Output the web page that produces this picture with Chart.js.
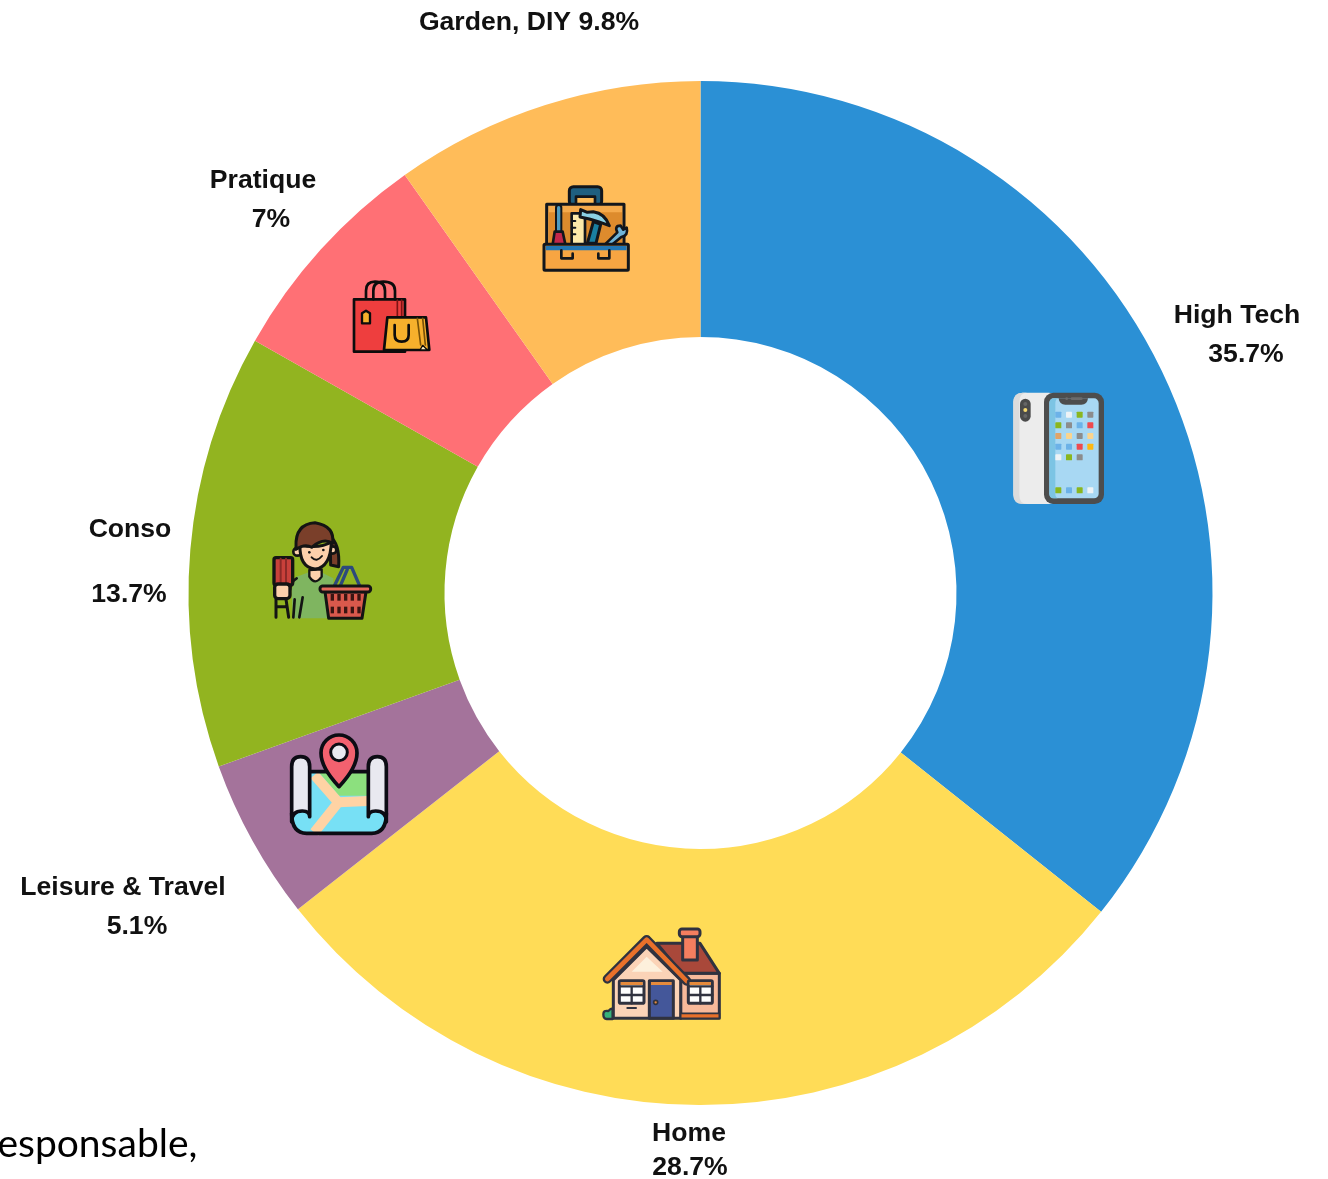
<!DOCTYPE html>
<html>
<head>
<meta charset="utf-8">
<title>Categories</title>
<script src="https://cdn.jsdelivr.net/npm/chart.js@4/dist/chart.umd.min.js"></script>
<style>
    html, body { margin: 0; padding: 0; background: #fff; overflow: hidden; }
    #wrap { position: relative; width: 1328px; height: 1179px; overflow: hidden; }
    #wrap canvas { position: absolute; left: 0; top: 0; }
    #note { position: absolute; left: -16px; top: 1119px; font: 39px Lato, sans-serif; color: #000; white-space: nowrap; }
</style>
</head>
<body>
<div id="wrap">
    <canvas id="pie" width="1328" height="1179"></canvas>
    <div id="note">responsable,</div>
</div>
<script>
const categories = ['High Tech', 'Home', 'Leisure & Travel', 'Conso', 'Pratique', 'Garden, DIY'];
const shares = [35.7, 28.7, 5.1, 13.7, 7, 9.8];
const sliceColors = ['#2b90d5', '#ffdc57', '#a4739b', '#92b420', '#ff7075', '#ffbc59'];

// where each label sits: [name x, name y, value x, value y], value y null = same line
const labelSpots = [
    [1237, 316, 1246, 355],
    [689, 1134, 690, 1168],
    [123, 888, 137, 927],
    [130, 530, 129, 595],
    [263, 181, 271, 220],
    [529, 23, null, null]
];

function box(x, y, w, h, r) {
    const p = new Path2D();
    p.roundRect(x, y, w, h, r || 0);
    return p;
}
function dot(x, y, r) {
    const p = new Path2D();
    p.arc(x, y, r, 0, Math.PI * 2);
    return p;
}
function shape(ctx, path, fill, stroke, width) {
    const p = typeof path === 'string' ? new Path2D(path) : path;
    if (fill) { ctx.fillStyle = fill; ctx.fill(p); }
    if (stroke) { ctx.strokeStyle = stroke; ctx.lineWidth = width; ctx.stroke(p); }
}

function drawPhone(ctx) {
    shape(ctx, box(70, 68, 135, 334, 28), '#ececec');
    shape(ctx, 'M98 68 Q70 68 70 96 V374 Q70 402 98 402 H112 Q88 402 88 374 V96 Q88 68 112 68 Z', '#dcdcdc');
    shape(ctx, box(90, 86, 32, 69, 16), '#4a4a4a');
    shape(ctx, dot(106, 102, 6), '#666');
    shape(ctx, dot(106, 120, 6), '#f5d76e');
    shape(ctx, dot(106, 138, 6), '#666');
    shape(ctx, box(162, 68, 180, 334, 28), '#4d4d4d');
    shape(ctx, box(178, 85, 148, 300, 14), '#a8d8f3');
    shape(ctx, 'M192 85 Q178 85 178 99 V371 Q178 385 192 385 H208 Q196 385 196 371 V99 Q196 85 208 85 Z', '#7cc4e4');
    shape(ctx, 'M206 85 H294 Q292 104 274 104 H226 Q208 104 206 85 Z', '#4d4d4d');
    shape(ctx, box(242, 82, 36, 8, 4), '#6b6b6b');
    shape(ctx, dot(230, 86, 4), '#6b6b6b');
    const blue = '#6cb2e8', white = '#eef3f6', green = '#8ab61f', grey = '#8c8c8c', red = '#ee4a4f', sand = '#fad48e';
    const apps = [
        [blue, white, green, grey],
        [green, grey, blue, red],
        ['#dfa468', sand, grey, sand],
        [blue, blue, red, '#fdb813'],
        [white, green, grey]
    ];
    const colX = [205, 237, 269, 301];
    const rowY = [134, 166, 198, 230, 262];
    apps.forEach((row, r) => row.forEach((c, i) => {
        shape(ctx, box(colX[i] - 9, rowY[r] - 9, 18, 18, 2), c);
    }));
    [green, blue, green, white].forEach((c, i) => {
        shape(ctx, box(colX[i] - 9, 352, 18, 18, 2), c);
    });
}

function drawHouse(ctx) {
    const ink = '#30323f';
    ctx.lineCap = 'round';
    ctx.lineJoin = 'round';
    shape(ctx, 'M40 298 Q40 285 55 288 Q62 280 68 280 V312 H50 Q40 312 40 298 Z', '#38b27a', ink, 7);
    shape(ctx, box(272, 175, 116, 135), '#f7b99a', ink, 9);
    shape(ctx, 'M200 85 H330 L388 175 H275 Z', '#a9483a', ink, 9);
    shape(ctx, box(278, 60, 44, 75), '#f47e5f', ink, 9);
    shape(ctx, box(268, 42, 62, 23, 8), '#f47e5f', ink, 9);
    shape(ctx, 'M70 195 L170 95 L272 195 V310 H70 Z', '#fbd3b7', ink, 9);
    shape(ctx, 'M125 170 L170 125 L218 170 Z', '#fdf0dc');
    shape(ctx, 'M52 192 L170 74 L290 198', null, ink, 28);
    shape(ctx, 'M52 192 L170 74 L290 198', null, '#e8702a', 14);
    shape(ctx, box(178, 197, 72, 113), '#44579a', ink, 9);
    shape(ctx, box(183, 201, 62, 9), '#e58a3c');
    shape(ctx, dot(197, 262, 6), '#e58a3c', ink, 5);
    [[88, 74], [295, 72]].forEach(w => {
        const x = w[0], wd = w[1];
        shape(ctx, box(x, 197, wd, 68, 4), '#fdfdfd', ink, 9);
        shape(ctx, box(x + 4, 201, wd - 8, 9), '#e58a3c');
        ctx.strokeStyle = ink;
        ctx.lineWidth = 7;
        ctx.beginPath();
        ctx.moveTo(x, 214); ctx.lineTo(x + wd, 214);
        ctx.moveTo(x, 240); ctx.lineTo(x + wd, 240);
        ctx.moveTo(x + wd / 2, 214); ctx.lineTo(x + wd / 2, 265);
        ctx.stroke();
    });
    shape(ctx, 'M112 279 H138', null, ink, 6);
    shape(ctx, box(272, 295, 116, 15), '#e8702a', ink, 5);
}

function drawMap(ctx) {
    const ink = '#0c0c14';
    ctx.lineJoin = 'round';
    ctx.lineCap = 'round';
    shape(ctx, box(50, 140, 284, 185, 35), '#77e0f5');
    shape(ctx, 'M130 140 H278 V212 H192 Z', '#8ce07e');
    ctx.lineCap = 'butt';
    shape(ctx, 'M118 150 L190 232 L278 228 M190 232 L118 322', null, '#ffd3a4', 30);
    ctx.lineCap = 'round';
    shape(ctx, 'M102 140 H278 M50 265 Q50 325 95 325 H290 Q334 325 334 265', null, ink, 11);
    shape(ctx, 'M50 268 V125 Q50 95 77 95 Q104 95 104 125 V275 Q104 258 82 258 Q50 258 50 290 Z', '#e9e9f0', ink, 11);
    shape(ctx, 'M334 268 V125 Q334 95 307 95 Q280 95 280 125 V275 Q280 258 302 258 Q334 258 334 290 Z', '#e9e9f0', ink, 11);
    shape(ctx, 'M192 185 Q138 128 138 84 A54 54 0 0 1 246 84 Q246 128 192 185 Z', '#f3616f', ink, 11);
    shape(ctx, dot(192, 82, 25), '#e9e9f0', ink, 9);
}

function drawWoman(ctx) {
    const ink = '#141414';
    ctx.lineJoin = 'round';
    ctx.lineCap = 'round';
    shape(ctx, 'M210 80 Q240 100 236 170 L212 165 Z', '#7a3f2a', ink, 9);
    shape(ctx, 'M108 200 Q140 190 148 185 L150 165 H180 L182 185 Q200 195 220 205 V325 H98 L95 240 Z', '#7fb560');
    shape(ctx, 'M148 180 V200 Q165 228 185 200 V178 Z', '#fcd0ab', ink, 7);
    shape(ctx, 'M110 205 Q92 215 90 240 M128 262 L118 322 M104 268 L100 322', null, ink, 8);
    shape(ctx, dot(112, 125, 12), '#fcd0ab', ink, 8);
    shape(ctx, dot(218, 120, 11), '#fcd0ab', ink, 8);
    shape(ctx, 'M120 105 Q118 172 165 177 Q212 172 214 95 Q180 118 120 105 Z', '#fcd0ab', ink, 9);
    shape(ctx, 'M108 110 Q105 42 165 38 Q225 48 218 100 Q190 82 155 112 Q135 100 108 118 Z', '#7a3f2a', ink, 9);
    shape(ctx, dot(148, 127, 4), ink);
    shape(ctx, dot(190, 120, 4), ink);
    shape(ctx, 'M155 142 Q170 158 186 138', null, ink, 6);
    shape(ctx, box(42, 143, 56, 82, 6), '#c8403a', ink, 10);
    shape(ctx, 'M62 146 V222 M78 146 V222', null, '#8c2a28', 6);
    shape(ctx, box(44, 222, 46, 44, 10), '#fcd0ab', ink, 10);
    shape(ctx, 'M48 268 V322 M78 268 L86 322 M50 290 H76', null, ink, 9);
    shape(ctx, 'M222 230 L250 172 H275 L300 230 M240 230 L262 178', null, '#2d4a7c', 10);
    shape(ctx, 'M195 245 H318 L306 325 H206 Z', '#d9594c', ink, 9);
    shape(ctx, box(180, 228, 152, 18, 8), '#e56a5a', ink, 9);
    [262, 300].forEach(y => {
        [212, 232, 252, 272, 292].forEach(x => {
            shape(ctx, box(x, y - 10, 10, 20), '#3a1512');
        });
    });
}

function drawBags(ctx) {
    const ink = '#0c0c0c';
    ctx.lineJoin = 'round';
    ctx.lineCap = 'round';
    shape(ctx, 'M78 125 V62 Q78 35 105 35 Q135 35 135 62 V105', null, ink, 8);
    shape(ctx, box(42, 88, 153, 157), '#ee3e3e', ink, 8);
    shape(ctx, 'M172 90 V142 M185 90 V142', null, '#7c1414', 5);
    shape(ctx, 'M100 88 V62 Q100 35 130 35 Q165 35 165 62 V88', null, ink, 8);
    shape(ctx, 'M66 130 L78 122 L90 130 V160 H66 Z', '#f6b02c', ink, 7);
    shape(ctx, 'M142 142 H258 L268 240 H132 Z', '#f6b02c', ink, 8);
    shape(ctx, 'M232 145 L242 225 M248 145 L256 225', null, '#7a5208', 5);
    shape(ctx, 'M240 240 L248 226 L262 240 Z', '#fff0c0', ink, 4);
    shape(ctx, 'M164 165 V195 Q164 215 185 215 Q206 215 206 195 V165', null, ink, 8);
}

function drawTools(ctx) {
    const ink = '#12161c';
    ctx.lineJoin = 'round';
    ctx.lineCap = 'round';
    shape(ctx, box(118, 35, 97, 56, 12), '#1f5f80', ink, 9);
    shape(ctx, box(138, 65, 57, 26), '#ffbc59', ink, 8);
    shape(ctx, box(50, 88, 232, 122), '#f5aa4c', ink, 9);
    shape(ctx, box(56, 112, 220, 94), '#dd8b2d');
    shape(ctx, 'M86 98 V170', null, ink, 22);
    shape(ctx, 'M86 98 V170', null, '#4d9bc1', 10);
    shape(ctx, 'M74 170 H98 L106 208 H68 Z', '#c2274b', ink, 8);
    shape(ctx, 'M125 115 H165 V208 H125 Z', '#fce9a9', ink, 8);
    shape(ctx, 'M136 138 H125 M136 158 H125 M136 178 H125', null, ink, 6);
    shape(ctx, 'M190 140 L172 205 H198 L212 148 Z', '#1a7fa0', ink, 9);
    shape(ctx, 'M152 104 L150 126 L178 132 L205 140 L238 152 Q225 115 190 110 L172 112 Z', '#8ad0e4', ink, 9);
    shape(ctx, 'M225 208 L262 172 Q252 152 272 152 L280 164 L290 158 Q296 182 274 186 L242 212 Z', '#6fb4d8', ink, 8);
    shape(ctx, box(42, 208, 253, 78, 3), '#f7a542', ink, 9);
    shape(ctx, box(47, 213, 243, 13), '#2277b5');
    shape(ctx, 'M94 226 V250 H128 V236 M205 236 V250 H238 V226', null, ink, 8);
}

const icons = [
    { x: 990, y: 370, draw: drawPhone },
    { x: 590, y: 915, draw: drawHouse },
    { x: 275, y: 725, draw: drawMap },
    { x: 260, y: 510, draw: drawWoman },
    { x: 340, y: 270, draw: drawBags },
    { x: 530, y: 175, draw: drawTools }
];

// labels and icons go on top of the slices
const overlayPlugin = {
    id: 'overlay',
    afterDraw(chart) {
        const ctx = chart.ctx;
        icons.forEach(icon => {
            ctx.save();
            ctx.translate(icon.x, icon.y);
            ctx.scale(1 / 3, 1 / 3);
            icon.draw(ctx);
            ctx.restore();
        });
        ctx.save();
        ctx.font = 'bold 26.6px "Liberation Sans", Arial, sans-serif';
        ctx.fillStyle = '#111';
        ctx.textAlign = 'center';
        ctx.textBaseline = 'middle';
        categories.forEach((name, i) => {
            const spot = labelSpots[i];
            if (spot[2] === null) {
                ctx.fillText(name + ' ' + shares[i] + '%', spot[0], spot[1]);
            } else {
                ctx.fillText(name, spot[0], spot[1]);
                ctx.fillText(shares[i] + '%', spot[2], spot[3]);
            }
        });
        ctx.restore();
    }
};

new Chart(document.getElementById('pie'), {
    type: 'doughnut',
    data: {
        labels: categories,
        datasets: [{
            data: shares,
            backgroundColor: sliceColors,
            borderWidth: 0
        }]
    },
    options: {
        responsive: false,
        animation: false,
        cutout: '50%',
        layout: { padding: { left: 188, right: 115, top: 81, bottom: 74 } },
        plugins: {
            legend: { display: false },
            tooltip: { enabled: false }
        }
    },
    plugins: [overlayPlugin]
});
</script>
</body>
</html>
